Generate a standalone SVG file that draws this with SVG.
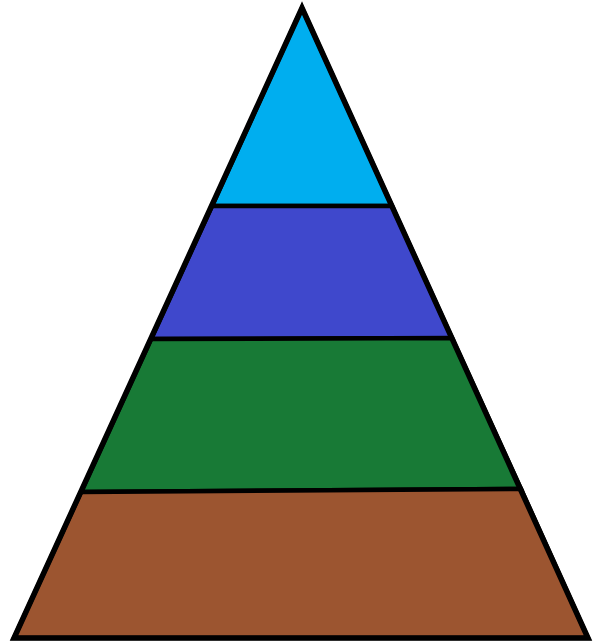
<svg xmlns="http://www.w3.org/2000/svg" width="594" height="644" viewBox="0 0 594 644">
<style>
.band{stroke:#000;stroke-width:4.5;stroke-linejoin:miter}
</style>
<rect width="594" height="644" fill="#fff"/>
<g id="layer1"><polygon class="band" fill="#00AEEF" points="302,8 392,206 212,206"/></g>
<g id="layer2"><polygon class="band" fill="#3F48CC" points="212,206 392,206 452,338 151,339"/></g>
<g id="layer3"><polygon class="band" fill="#187A36" points="151,339 452,338 521,489 81,492"/></g>
<g id="layer4"><polygon class="band" fill="#9C5530" points="81,492 521,489 588,638 14,638"/></g>
<g id="outline"><polygon points="302,8 588,638 14,638" fill="none" stroke="#000" stroke-width="5.5" stroke-linejoin="miter"/></g>
</svg>
